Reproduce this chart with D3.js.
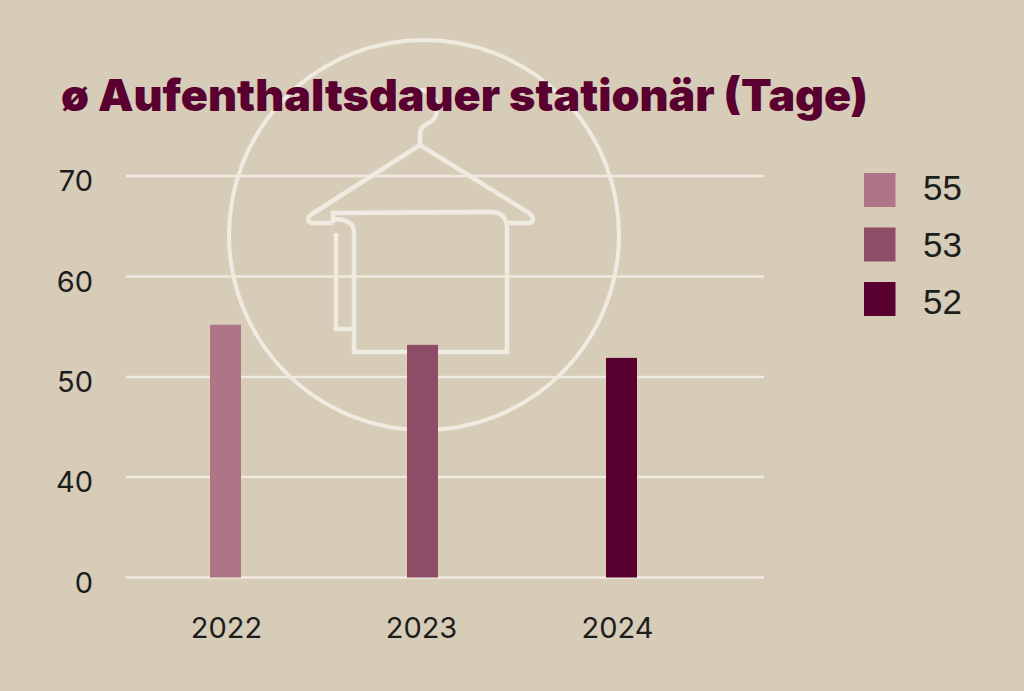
<!DOCTYPE html>
<html><head><meta charset="utf-8">
<script src="https://cdn.jsdelivr.net/npm/d3@7/dist/d3.min.js"></script>
<style>html,body{margin:0;padding:0;background:#d6ccb8}svg{display:block}</style>
</head><body><svg id="c" width="1024" height="691"></svg>
<script>
const titleText = "ø Aufenthaltsdauer stationär (Tage)";
const years = ["2022","2023","2024"];
const barValues = [55.2,53.2,51.9];
const legendLabels = ["55","53","52"];
const barColors = ["#ad7587","#8f4c66","#5a0030"];
const yTicks = [0,40,50,60,70];

const ink="#1d1d1b", line="#f0ebe0", maroon="#5a0030";
const svg=d3.select("#c");
svg.append("rect").attr("width",1024).attr("height",691).attr("fill","#d6ccb8");

// broken axis: ticks are evenly spaced although they jump from 0 to 40
const y=d3.scaleLinear().domain(yTicks).range([577.5,477,377,276.5,176]);
const x=d3.scaleOrdinal().domain(years).range([225.5,422.5,621.5]);
const xLabel=d3.scaleOrdinal().domain(years).range([226.5,421.5,617.5]);
const barW=31;

// icon
const icon=svg.append("g").attr("fill","none").attr("stroke",line).attr("stroke-width",4.5);
icon.append("circle").attr("cx",424).attr("cy",235).attr("r",195).attr("stroke-width",4);
icon.append("path").attr("stroke-linejoin","round").attr("d",
 "M420 145 L312 214 Q305 219 311 223 L333 223 M420 145 L529 213 Q536 219 530 223 L507 223 M420 145 L420 135 C420 120 435 128 437 110 C437 96 428 90 420 90");
icon.append("path").attr("d",
 "M333 223 L333 213 L490 212 Q506 212 507 227 L507 352 L354 352 L354 232 Q354 219 333 219 M354 329 L336 329 L336 233");

// grid
const grid=svg.append("g");
grid.selectAll("line").data(yTicks).join("line")
 .attr("x1",126).attr("x2",764).attr("y1",d=>y(d)).attr("y2",d=>y(d))
 .attr("stroke",line).attr("stroke-width",2.4);

// bars
svg.append("g").selectAll("rect").data(years).join("rect")
 .attr("x",d=>x(d)-barW/2).attr("width",barW)
 .attr("y",(d,i)=>y(barValues[i])).attr("height",(d,i)=>y(0)-y(barValues[i]))
 .attr("fill",(d,i)=>barColors[i]);

// axes
const font="Inter, 'Noto Sans', sans-serif";
svg.append("g").selectAll("text").data(yTicks).join("text")
 .attr("x",93).attr("y",d=>y(d)+15).attr("text-anchor","end")
 .attr("font-family",font).attr("font-size",29).attr("fill",ink).text(d=>d);
svg.append("g").selectAll("text").data(years).join("text")
 .attr("x",d=>xLabel(d)).attr("y",638).attr("text-anchor","middle")
 .attr("font-family",font).attr("font-size",29).attr("fill",ink).text(d=>d);

// legend
const legY=d3.scalePoint().domain(legendLabels).range([190,299]);
const legText=d3.scalePoint().domain(legendLabels).range([188,302]);
const leg=svg.append("g");
leg.selectAll("rect").data(legendLabels).join("rect")
 .attr("x",864).attr("y",d=>legY(d)-17).attr("width",31.5).attr("height",34)
 .attr("fill",(d,i)=>barColors[i]);
leg.selectAll("text").data(legendLabels).join("text")
 .attr("x",923).attr("y",d=>legText(d)+12).attr("font-family","'Liberation Sans', Arial, sans-serif")
 .attr("font-size",35).attr("fill",ink).text(d=>d);

// title
svg.append("text").attr("x",61).attr("y",111)
 .attr("font-family","Inter, Lato, sans-serif").attr("font-weight",900)
 .attr("font-size",44).attr("fill",maroon)
 .attr("textLength",807).attr("lengthAdjust","spacingAndGlyphs").text(titleText);
</script></body></html>
